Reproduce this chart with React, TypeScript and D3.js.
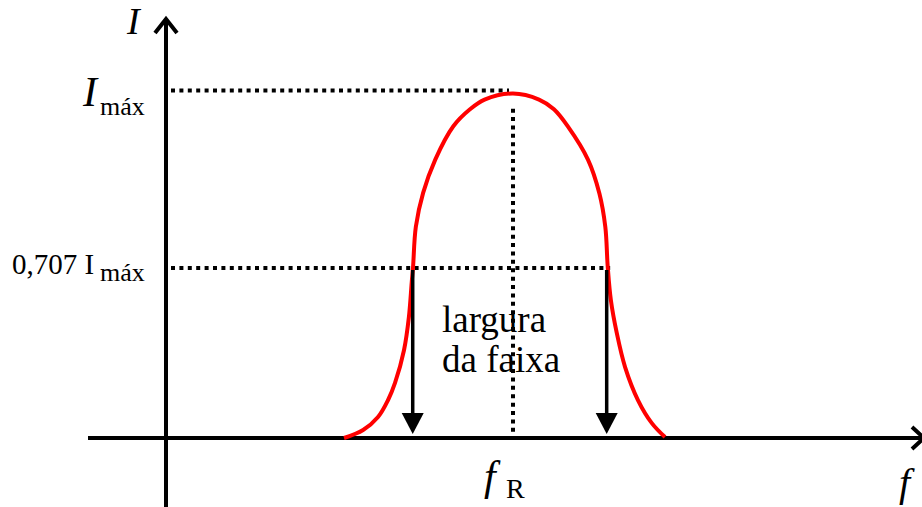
import React from "react";
import * as d3 from "d3";

// Resonance curve of a series RLC circuit: current I versus frequency f.
// Frequency is expressed relative to the resonant frequency f_R (f/f_R).
const curveF = [0.513, 0.568, 0.611, 0.64, 0.66, 0.686, 0.7, 0.708, 0.712, 0.72, 0.741, 0.776, 0.828, 0.876, 0.918, 1.0, 1.075, 1.118, 1.159, 1.216, 1.249, 1.266, 1.273, 1.282, 1.299, 1.323, 1.36, 1.4, 1.438];
const curveI = [0, 0.033, 0.087, 0.158, 0.229, 0.366, 0.503, 0.645, 0.709, 0.775, 0.831, 0.886, 0.941, 0.969, 0.985, 0.995, 0.985, 0.969, 0.94, 0.886, 0.83, 0.775, 0.709, 0.574, 0.437, 0.295, 0.158, 0.062, 0.004];

// Reference levels on the current axis
const levelValues = [1, 0.707];
const levelLabels = ["máx", "máx"];

// Half-power (band) edges and resonance
const bandEdges = [0.711, 1.27];
const resonanceF = 1;

const W = 922;
const H = 507;

export default function App() {
  const x = d3.scaleLinear().domain([0, 1]).range([166, 513]);
  // Schematic axis: the two reference levels are spread apart for legibility
  const y = d3.scaleLinear().domain([0, 0.707, 1]).range([438, 268, 90.5]);

  const pts: [number, number][] = curveF.map((f, i) => [f, curveI[i]]);
  const line = d3
    .line<[number, number]>()
    .x((d) => x(d[0]))
    .y((d) => y(d[1]))
    .curve(d3.curveCatmullRom.alpha(0.5));

  const x0 = x(0);
  const yBase = y(0);
  const font = "'Liberation Serif', 'Times New Roman', serif";
  const dots = "4 4.4";

  return (
    <svg width={W} height={H} style={{ position: "absolute", left: 0, top: 0, background: "#fff" }}>
      {/* reference dotted guides */}
      <line x1={x0 + 5} x2={x(resonanceF) - 4} y1={y(levelValues[0])} y2={y(levelValues[0])} stroke="#000" strokeWidth={4} strokeDasharray={dots} />
      <line x1={x0 + 5} x2={x(1.28)} y1={y(levelValues[1])} y2={y(levelValues[1])} stroke="#000" strokeWidth={4} strokeDasharray={dots} />
      <line x1={x(resonanceF)} x2={x(resonanceF)} y1={y(0.97)} y2={yBase - 5} stroke="#000" strokeWidth={4} strokeDasharray={dots} />

      {/* axes */}
      <line x1={88} x2={924} y1={yBase} y2={yBase} stroke="#000" strokeWidth={4} />
      <polyline points={`912,427 924,${yBase} 912,449`} fill="none" stroke="#000" strokeWidth={4} />
      <line x1={x0} x2={x0} y1={20} y2={507} stroke="#000" strokeWidth={4} />
      <polyline points={`${x0 - 11},33 ${x0},19 ${x0 + 11},33`} fill="none" stroke="#000" strokeWidth={4} />

      {/* resonance curve */}
      <path d={line(pts) ?? ""} fill="none" stroke="#ff0000" strokeWidth={4} />

      {/* bandwidth arrows */}
      {bandEdges.map((f, i) => (
        <g key={i}>
          <line x1={x(f)} x2={x(f)} y1={y(0.707) + 2} y2={yBase - 20} stroke="#000" strokeWidth={3.5} />
          <polygon points={`${x(f) - 11},${yBase - 25} ${x(f) + 11},${yBase - 25} ${x(f)},${yBase - 4}`} fill="#000" />
        </g>
      ))}

      {/* labels */}
      <text x={127} y={34} fontFamily={font} fontStyle="italic" fontSize={38}>I</text>
      <text x={83} y={106} fontFamily={font} fontStyle="italic" fontSize={42}>I</text>
      <text x={100} y={115} fontFamily={font} fontSize={26}>{levelLabels[0]}</text>
      <text x={12} y={274} fontFamily={font} fontSize={29}>0,707 I</text>
      <text x={100} y={281} fontFamily={font} fontSize={26}>{levelLabels[1]}</text>
      <text x={442} y={332} fontFamily={font} fontSize={37}>largura</text>
      <text x={442} y={372} fontFamily={font} fontSize={37}>da faixa</text>
      <text x={484} y={490} fontFamily={font} fontStyle="italic" fontSize={42}>f</text>
      <text x={506} y={498} fontFamily={font} fontSize={28}>R</text>
      <text x={899} y={496} fontFamily={font} fontStyle="italic" fontSize={40}>f</text>
    </svg>
  );
}
